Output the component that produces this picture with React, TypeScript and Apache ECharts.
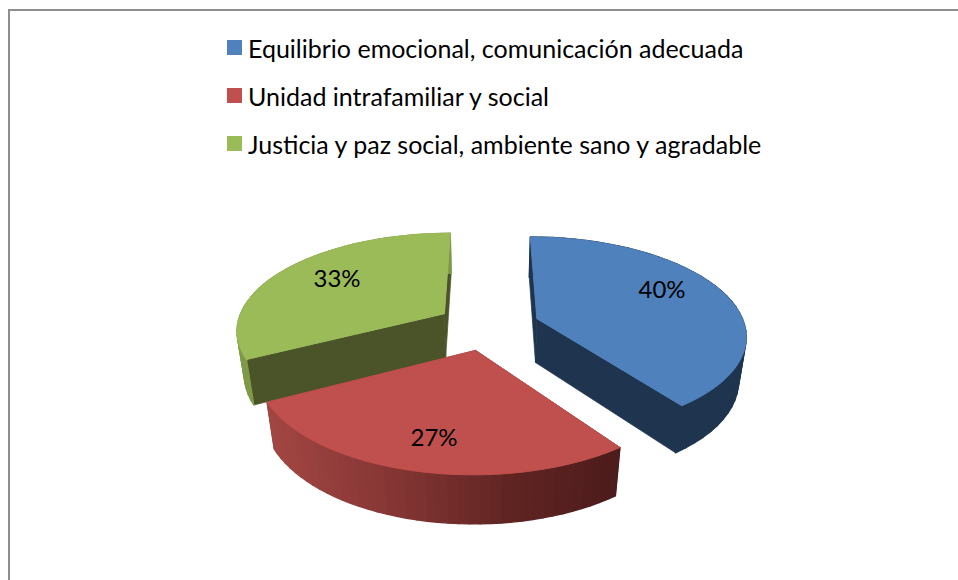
import React, { useEffect, useRef } from "react";
import * as echarts from "echarts";

const categories = [
  "Equilibrio emocional, comunicación adecuada",
  "Unidad intrafamiliar y social",
  "Justicia y paz social, ambiente sano y agradable",
];
const values = [40, 27.4, 32.6];
const topColors = ["#4F81BD", "#C0504D", "#9BBB59"];
const faceColors = ["#1F344F", "#4C1B1B", "#4A5428"];
const wallColors = [
  ["#1F344F", "#1F344F"],
  ["#A24643", "#853634", "#602523", "#4C1B1B"],
  ["#7E9A47", "#7E9A47"],
];
const drawOrder = [2, 3, 1]; // z of each slice: green at the back, red in front
const labelAt = [
  [662, 288],
  [434, 436],
  [337, 277],
];

// perspective view of the tilted pie
const X0 = 488;
const Y0 = 326;
const RX = 208;
const RY = 96.5;
const DEPTH = 45.5;
const KY = 0.156;
const KZ = 0.03;
const EXPLODE = 0.25;
const FONT = "Lato";
const LEGEND_SIZE = 25;
const LABEL_SIZE = 24;

const project = (x: number, y: number, z: number) => {
  const w = 1 + KY * y + KZ * z;
  return [X0 + (RX * x) / w, Y0 + (-RY * y + DEPTH * z) / w];
};

const total = values.reduce((a, b) => a + b, 0);

const sliceRenderer = (i: number) => () => {
  const before = values.slice(0, i).reduce((a, b) => a + b, 0);
  const a0 = (before / total) * Math.PI * 2;
  const a1 = ((before + values[i]) / total) * Math.PI * 2;
  const mid = (a0 + a1) / 2;
  const ox = EXPLODE * Math.sin(mid);
  const oy = EXPLODE * Math.cos(mid);
  const arc = (z: number, n: number) => {
    const pts: number[][] = [];
    for (let k = 0; k <= n; k++) {
      const a = a0 + ((a1 - a0) * k) / n;
      pts.push(project(ox + Math.sin(a), oy + Math.cos(a), z));
    }
    return pts;
  };
  const top = arc(0, 120);
  const rim = arc(0, 40);
  const bottom = arc(1, 40);
  const apexTop = project(ox, oy, 0);
  const apexBottom = project(ox, oy, 1);
  const poly = (points: number[][], fill: any, stroke: any = null, lineWidth = 0) => ({
    type: "polygon",
    shape: { points },
    style: { fill, stroke, lineWidth, lineJoin: "round" },
  });
  const xs = rim.map((p) => p[0]);
  const xMin = Math.min(...xs);
  const xMax = Math.max(...xs);
  const wall = rim.slice(1).map((p, k) => {
    const t = (p[0] - xMin) / (xMax - xMin || 1);
    const c = echarts.color.lerp(t, wallColors[i]);
    return poly([rim[k], p, bottom[k + 1], bottom[k]], c, c, 1.4);
  });
  return {
    type: "group",
    children: [
      poly([rim[0], bottom[0], apexBottom, apexTop], faceColors[i], faceColors[i], 0.7),
      poly(
        [rim[rim.length - 1], bottom[bottom.length - 1], apexBottom, apexTop],
        faceColors[i],
        faceColors[i],
        0.7
      ),
      ...wall,
      poly([apexTop, ...top], topColors[i], topColors[i], 1),
      {
        type: "text",
        x: labelAt[i][0],
        y: labelAt[i][1],
        style: {
          text: `${Math.round(values[i])}%`,
          font: `${LABEL_SIZE}px ${FONT}`,
          fill: "#000",
          align: "center",
          verticalAlign: "middle",
        },
      },
    ],
  };
};

export default function App() {
  const ref = useRef<HTMLDivElement>(null);
  useEffect(() => {
    const chart = echarts.init(ref.current!, null, { renderer: "svg" });
    chart.setOption({
      animation: false,
      backgroundColor: "#fff",
      legend: {
        orient: "vertical",
        left: 222,
        top: 30,
        itemWidth: 15,
        itemHeight: 15,
        itemGap: 23,
        icon: "rect",
        data: categories,
        selectedMode: false,
        textStyle: { fontFamily: FONT, fontSize: LEGEND_SIZE, color: "#000", padding: [0, 0, 0, 1] },
      },
      graphic: [
        {
          type: "polyline",
          shape: { points: [[9, 580], [9, 10], [958, 10]] },
          style: { stroke: "#8E8E8E", lineWidth: 2, fill: null },
        },
      ],
      series: categories.map((name, i) => ({
        type: "custom",
        name,
        coordinateSystem: "none",
        silent: true,
        z: drawOrder[i],
        itemStyle: { color: topColors[i] },
        data: [[values[i]]],
        renderItem: sliceRenderer(i),
      })),
    });
    return () => chart.dispose();
  }, []);
  return <div ref={ref} style={{ position: "absolute", left: 0, top: 0, width: 958, height: 580 }} />;
}
